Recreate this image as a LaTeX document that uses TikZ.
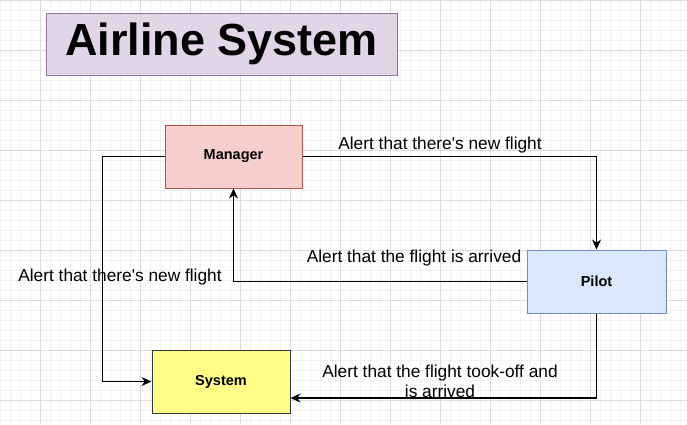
\documentclass[tikz,border=0pt]{standalone}
\usepackage{fontspec}
\setmainfont{Liberation Sans}
\usepackage{tikz}
\usetikzlibrary{arrows.meta}
\usepackage{xcolor}
\definecolor{titlefill}{HTML}{E1D5E7}
\definecolor{titleline}{HTML}{9673A6}
\definecolor{mgrfill}{HTML}{F8CECC}
\definecolor{mgrline}{HTML}{B85450}
\definecolor{pilotfill}{HTML}{DAE8FC}
\definecolor{pilotline}{HTML}{6C8EBF}
\definecolor{sysfill}{HTML}{FFFF88}
\definecolor{sysline}{HTML}{36393D}
\definecolor{gridminor}{HTML}{F1F1F1}
\definecolor{gridmajor}{HTML}{DCDCDC}

\begin{document}
\begin{tikzpicture}[x=1pt,y=-1pt,
  box/.style={draw,line width=1pt,minimum height=63pt,inner sep=0pt,
    font=\fontsize{14.5}{17}\selectfont\bfseries},
  arr/.style={-{Stealth[length=10pt,width=9pt]},line width=1.1pt},
  note/.style={align=center,inner sep=0pt,font=\fontsize{17.3}{20}\selectfont}
]
\useasboundingbox[fill=white] (0,0) rectangle (687,424);
% grid
\foreach \x in {0,10,...,680} \draw[gridminor,line width=0.8pt] (\x,0) -- (\x,424);
\foreach \y in {0,10,...,420} \draw[gridminor,line width=0.8pt] (0,\y) -- (687,\y);
\foreach \x in {40,90,...,640} \draw[gridmajor,line width=0.9pt] (\x,0) -- (\x,424);
\foreach \y in {0,50,...,400} \draw[gridmajor,line width=0.9pt] (0,\y) -- (687,\y);

\node[draw=titleline,fill=titlefill,line width=1pt,minimum width=351pt,
  minimum height=62pt,font=\fontsize{45}{50}\selectfont\bfseries] (title)
  at (221.5,44) {Airline System};

\node[box,draw=mgrline,fill=mgrfill,minimum width=137pt] (manager)
  at (233.5,156.5) {Manager};
\node[box,draw=pilotline,fill=pilotfill,minimum width=139pt] (pilot)
  at (596.5,281.5) {Pilot};
\node[box,draw=sysline,fill=sysfill,minimum width=138pt] (system)
  at (221,381.5) {System};

\draw[arr] (manager.east) -| (pilot.north);
\draw[arr] (pilot.west) -| (manager.south);
\draw[arr] (manager.west) -- ++(-62,0) |- (system.west);
\draw[arr] (pilot.south) |- ([yshift=-16.5pt]system.east);

\node[note] (newflightA) at (440,145) {Alert that there\textquotesingle s new flight};
\node[note] (arrived) at (414,258) {Alert that the flight is arrived};
\node[note] (newflightB) at (120,277) {Alert that there\textquotesingle s new flight};
\node[note] (tookoff) at (440,381) {Alert that the flight took-off and\\is arrived};
\end{tikzpicture}
\end{document}
